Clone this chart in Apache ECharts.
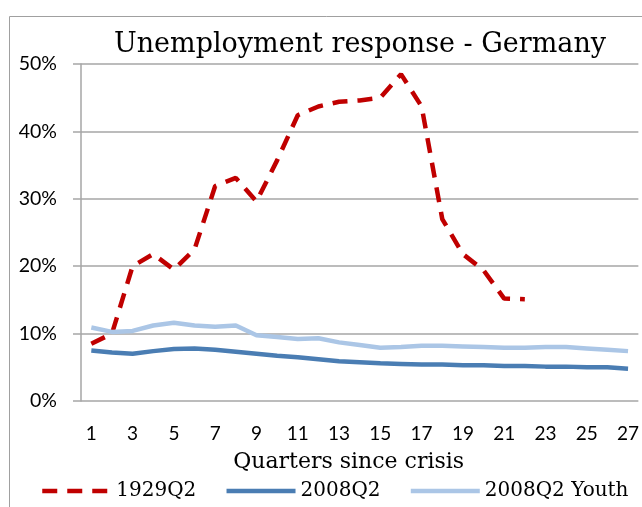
<!DOCTYPE html>
<html>
<head>
<meta charset="utf-8">
<script src="https://cdn.jsdelivr.net/npm/echarts@6/dist/echarts.min.js"></script>
<style>
  html, body { margin: 0; padding: 0; background: #fff; }
  #chart { width: 642px; height: 507px; }
</style>
</head>
<body>
<div id="chart"></div>
<script>
  const quarters = Array.from({ length: 27 }, (_, i) => String(i + 1));

  // unemployment rate, % (1929Q2 stops at quarter 22)
  const crisis1929 = [8.5, 10.0, 20.0, 21.8, 19.5, 22.5, 31.9, 33.1, 29.6, 35.7, 42.4, 43.7, 44.4, 44.6, 45.0, 48.5, 43.7, 27.0, 21.8, 19.4, 15.2, 15.1];
  const crisis2008 = [7.5, 7.2, 7.0, 7.4, 7.7, 7.8, 7.6, 7.3, 7.0, 6.7, 6.5, 6.2, 5.9, 5.75, 5.6, 5.5, 5.4, 5.4, 5.3, 5.3, 5.2, 5.2, 5.1, 5.1, 5.0, 5.0, 4.8];
  const youth2008 = [10.9, 10.25, 10.4, 11.2, 11.6, 11.2, 11.0, 11.2, 9.75, 9.5, 9.2, 9.3, 8.7, 8.3, 7.9, 8.0, 8.2, 8.2, 8.1, 8.0, 7.9, 7.9, 8.0, 8.0, 7.8, 7.6, 7.4];

  const yTicks = [0, 10, 20, 30, 40, 50];

  const serif = '"DejaVu Serif", serif';
  const sans = 'Lato, sans-serif';
  const gridGray = '#a6a6a6';

  const chart = echarts.init(document.getElementById('chart'));
  chart.setOption({
    animation: false,
    backgroundColor: '#fff',
    title: {
      text: 'Unemployment response - Germany',
      left: 355,
      textAlign: 'center',
      top: 26,
      textStyle: { fontFamily: serif, fontWeight: 'normal', fontSize: 27, color: '#000' }
    },
    graphic: [{
      type: 'rect',
      shape: { x: 9.5, y: 16.5, width: 700, height: 600 },
      style: { fill: 'none', stroke: '#a0a0a0', lineWidth: 1 },
      silent: true
    }],
    legend: {
      left: 40,
      top: 481,
      width: 602,
      padding: 0,
      itemWidth: 69,
      itemHeight: 14,
      itemGap: 28,
      itemStyle: { opacity: 0 },
      lineStyle: { width: 4.5 },
      textStyle: { fontFamily: serif, fontSize: 20, color: '#000' },
      data: ['1929Q2', '2008Q2', '2008Q2 Youth']
    },
    grid: { left: 81, right: 0, top: 64, bottom: 106, containLabel: false },
    xAxis: {
      type: 'category',
      data: quarters,
      boundaryGap: true,
      axisLine: { show: false },
      axisTick: { show: false },
      axisLabel: {
        interval: 1,
        margin: 23,
        fontFamily: sans,
        fontSize: 19,
        color: '#000'
      },
      name: 'Quarters since crisis',
      nameLocation: 'middle',
      nameGap: 50,
      nameTextStyle: { fontFamily: serif, fontSize: 22, color: '#000', padding: [0, 22, 0, 0] }
    },
    yAxis: {
      type: 'value',
      min: yTicks[0],
      max: yTicks[yTicks.length - 1],
      interval: 10,
      axisLine: { show: true, lineStyle: { color: gridGray, width: 1.5 } },
      axisTick: { show: true, length: 8, lineStyle: { color: gridGray, width: 1.5 } },
      axisLabel: {
        margin: 24,
        fontFamily: sans,
        fontSize: 19.5,
        color: '#000',
        formatter: (v) => v + '%'
      },
      splitLine: { lineStyle: { color: gridGray, width: 1.5 } }
    },
    series: [
      {
        name: '1929Q2',
        type: 'line',
        data: crisis1929,
        symbol: 'none',
        color: '#c00000',
        lineStyle: { width: 4.5, type: [15, 10], cap: 'butt', color: '#c00000' }
      },
      {
        name: '2008Q2',
        type: 'line',
        data: crisis2008,
        symbol: 'none',
        color: '#4a7db3',
        lineStyle: { width: 4.5, color: '#4a7db3' }
      },
      {
        name: '2008Q2 Youth',
        type: 'line',
        data: youth2008,
        symbol: 'none',
        color: '#abc6e6',
        lineStyle: { width: 4.5, color: '#abc6e6' }
      }
    ]
  });
</script>
</body>
</html>
